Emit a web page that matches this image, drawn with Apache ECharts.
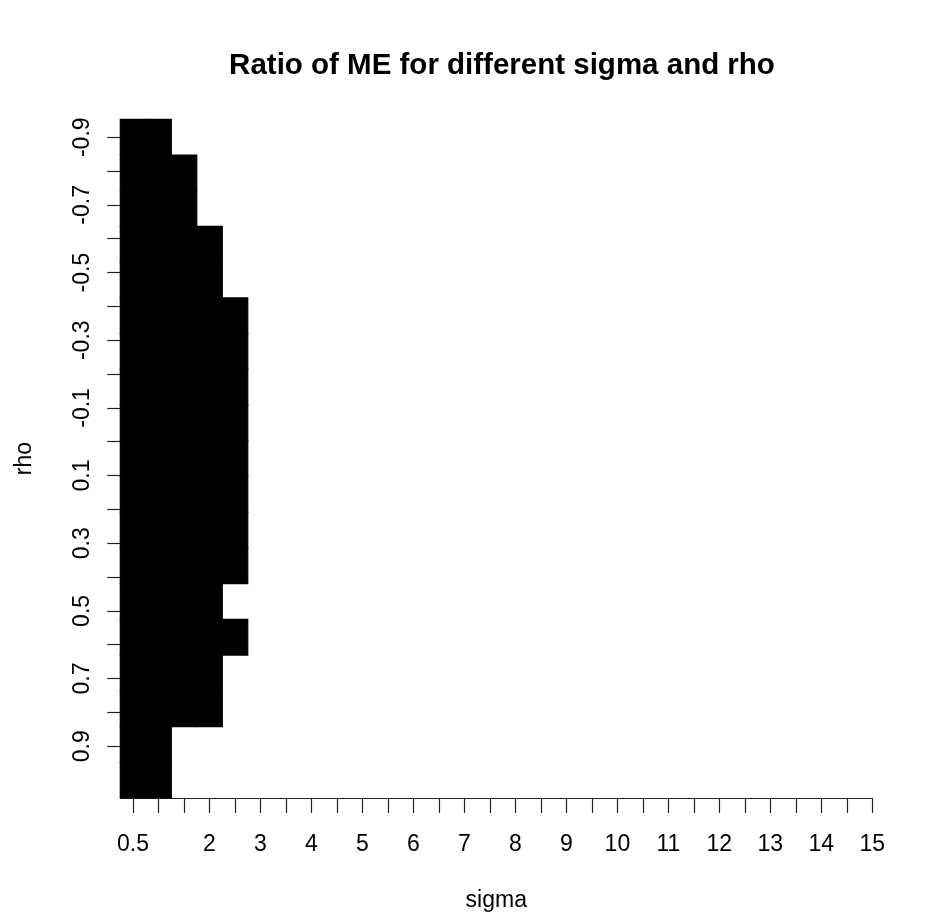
<!DOCTYPE html>
<html>
<head>
<meta charset="utf-8">
<title>Ratio of ME for different sigma and rho</title>
<script src="https://cdn.jsdelivr.net/npm/echarts@6/dist/echarts.min.js"></script>
<style>
  html, body { margin: 0; padding: 0; background: #fff; }
  #main { width: 935px; height: 917px; }
</style>
</head>
<body>
<div id="main"></div>
<script>
// columns of the image (sigma) and rows (rho, top to bottom)
var sigmaValues = [0.5, 1, 1.5, 2, 2.5, 3, 3.5, 4, 4.5, 5, 5.5, 6, 6.5, 7, 7.5,
  8, 8.5, 9, 9.5, 10, 10.5, 11, 11.5, 12, 12.5, 13, 13.5, 14, 14.5, 15]
var rhoValues = [-0.9, -0.8, -0.7, -0.6, -0.5, -0.4, -0.3, -0.2, -0.1, 0,
  0.1, 0.2, 0.3, 0.4, 0.5, 0.6, 0.7, 0.8, 0.9]

// tick labels that R kept on each axis
var sigmaLabels = [0.5, 2, 3, 4, 5, 6, 7, 8, 9, 10, 11, 12, 13, 14, 15]
var rhoLabels = [-0.9, -0.7, -0.5, -0.3, -0.1, 0.1, 0.3, 0.5, 0.7, 0.9]

// 1 = black cell, 0 = white cell; one row per rho, one column per sigma
var ratioFlag = [
  [1, 1, 0, 0, 0, 0, 0, 0, 0, 0, 0, 0, 0, 0, 0, 0, 0, 0, 0, 0, 0, 0, 0, 0, 0, 0, 0, 0, 0, 0],
  [1, 1, 1, 0, 0, 0, 0, 0, 0, 0, 0, 0, 0, 0, 0, 0, 0, 0, 0, 0, 0, 0, 0, 0, 0, 0, 0, 0, 0, 0],
  [1, 1, 1, 0, 0, 0, 0, 0, 0, 0, 0, 0, 0, 0, 0, 0, 0, 0, 0, 0, 0, 0, 0, 0, 0, 0, 0, 0, 0, 0],
  [1, 1, 1, 1, 0, 0, 0, 0, 0, 0, 0, 0, 0, 0, 0, 0, 0, 0, 0, 0, 0, 0, 0, 0, 0, 0, 0, 0, 0, 0],
  [1, 1, 1, 1, 0, 0, 0, 0, 0, 0, 0, 0, 0, 0, 0, 0, 0, 0, 0, 0, 0, 0, 0, 0, 0, 0, 0, 0, 0, 0],
  [1, 1, 1, 1, 1, 0, 0, 0, 0, 0, 0, 0, 0, 0, 0, 0, 0, 0, 0, 0, 0, 0, 0, 0, 0, 0, 0, 0, 0, 0],
  [1, 1, 1, 1, 1, 0, 0, 0, 0, 0, 0, 0, 0, 0, 0, 0, 0, 0, 0, 0, 0, 0, 0, 0, 0, 0, 0, 0, 0, 0],
  [1, 1, 1, 1, 1, 0, 0, 0, 0, 0, 0, 0, 0, 0, 0, 0, 0, 0, 0, 0, 0, 0, 0, 0, 0, 0, 0, 0, 0, 0],
  [1, 1, 1, 1, 1, 0, 0, 0, 0, 0, 0, 0, 0, 0, 0, 0, 0, 0, 0, 0, 0, 0, 0, 0, 0, 0, 0, 0, 0, 0],
  [1, 1, 1, 1, 1, 0, 0, 0, 0, 0, 0, 0, 0, 0, 0, 0, 0, 0, 0, 0, 0, 0, 0, 0, 0, 0, 0, 0, 0, 0],
  [1, 1, 1, 1, 1, 0, 0, 0, 0, 0, 0, 0, 0, 0, 0, 0, 0, 0, 0, 0, 0, 0, 0, 0, 0, 0, 0, 0, 0, 0],
  [1, 1, 1, 1, 1, 0, 0, 0, 0, 0, 0, 0, 0, 0, 0, 0, 0, 0, 0, 0, 0, 0, 0, 0, 0, 0, 0, 0, 0, 0],
  [1, 1, 1, 1, 1, 0, 0, 0, 0, 0, 0, 0, 0, 0, 0, 0, 0, 0, 0, 0, 0, 0, 0, 0, 0, 0, 0, 0, 0, 0],
  [1, 1, 1, 1, 0, 0, 0, 0, 0, 0, 0, 0, 0, 0, 0, 0, 0, 0, 0, 0, 0, 0, 0, 0, 0, 0, 0, 0, 0, 0],
  [1, 1, 1, 1, 1, 0, 0, 0, 0, 0, 0, 0, 0, 0, 0, 0, 0, 0, 0, 0, 0, 0, 0, 0, 0, 0, 0, 0, 0, 0],
  [1, 1, 1, 1, 0, 0, 0, 0, 0, 0, 0, 0, 0, 0, 0, 0, 0, 0, 0, 0, 0, 0, 0, 0, 0, 0, 0, 0, 0, 0],
  [1, 1, 1, 1, 0, 0, 0, 0, 0, 0, 0, 0, 0, 0, 0, 0, 0, 0, 0, 0, 0, 0, 0, 0, 0, 0, 0, 0, 0, 0],
  [1, 1, 0, 0, 0, 0, 0, 0, 0, 0, 0, 0, 0, 0, 0, 0, 0, 0, 0, 0, 0, 0, 0, 0, 0, 0, 0, 0, 0, 0],
  [1, 1, 0, 0, 0, 0, 0, 0, 0, 0, 0, 0, 0, 0, 0, 0, 0, 0, 0, 0, 0, 0, 0, 0, 0, 0, 0, 0, 0, 0]
]

var cells = []
for (var i = 0; i < rhoValues.length; i++) {
  for (var j = 0; j < sigmaValues.length; j++) {
    cells.push([sigmaValues[j], i, ratioFlag[i][j]])
  }
}

var fontFamily = '"Liberation Sans", Arial, sans-serif'
var axisColor = '#222'
var sigmaStep = sigmaValues[1] - sigmaValues[0]

function renderCell (params, api) {
  // white cells are left as background
  if (api.value(2) !== 1) {
    return null
  }
  var c = api.coord([api.value(0), api.value(1)])
  var s = api.size([sigmaStep, 1])
  return {
    type: 'rect',
    shape: { x: c[0] - s[0] / 2, y: c[1] - s[1] / 2, width: s[0], height: s[1] },
    style: { fill: '#000', stroke: '#000', lineWidth: 1.2 }
  }
}

var chart = echarts.init(document.getElementById('main'))

let option = {
  backgroundColor: '#fff',
  animation: false,
  graphic: [
    {
      type: 'text',
      x: 502,
      y: 66,
      style: {
        text: 'Ratio of ME for different sigma and rho',
        align: 'center',
        verticalAlign: 'middle',
        fill: '#000',
        font: 'bold 29.5px ' + fontFamily
      }
    }
  ],
  grid: {
    left: 120.3,
    top: 119.3,
    width: 752,
    height: 680.2,
    containLabel: false
  },
  xAxis: {
    type: 'value',
    min: 0.25,
    max: 15,
    name: 'sigma',
    nameLocation: 'middle',
    nameGap: 91,
    nameTextStyle: { fontFamily: fontFamily, fontSize: 23, color: '#000' },
    axisLine: { show: true, onZero: false, lineStyle: { color: axisColor, width: 1 } },
    axisTick: { show: true, length: 15, customValues: sigmaValues, lineStyle: { color: axisColor, width: 1.2 } },
    axisLabel: { customValues: sigmaLabels, margin: 35, fontFamily: fontFamily, fontSize: 23, color: '#000' },
    splitLine: { show: false }
  },
  yAxis: [
    {
      type: 'value',
      inverse: true,
      min: -0.953,
      max: 1.053,
      name: 'rho',
      nameLocation: 'middle',
      nameGap: 84,
      nameRotate: 90,
      nameTextStyle: { fontFamily: fontFamily, fontSize: 23, color: '#000' },
      axisLine: { show: false, onZero: false },
      axisTick: { show: true, length: 13, customValues: rhoValues, lineStyle: { color: axisColor, width: 1.2 } },
      axisLabel: { customValues: rhoLabels, rotate: 90, margin: 26, fontFamily: fontFamily, fontSize: 23, color: '#000' },
      splitLine: { show: false }
    },
    {
      // one band per rho row, used only to place the cells
      type: 'category',
      inverse: true,
      data: rhoValues.map(String),
      show: false
    }
  ],
  series: [
    {
      type: 'custom',
      xAxisIndex: 0,
      yAxisIndex: 1,
      renderItem: renderCell,
      encode: { x: 0, y: 1 },
      data: cells
    }
  ]
}

chart.setOption(option)
</script>
</body>
</html>
